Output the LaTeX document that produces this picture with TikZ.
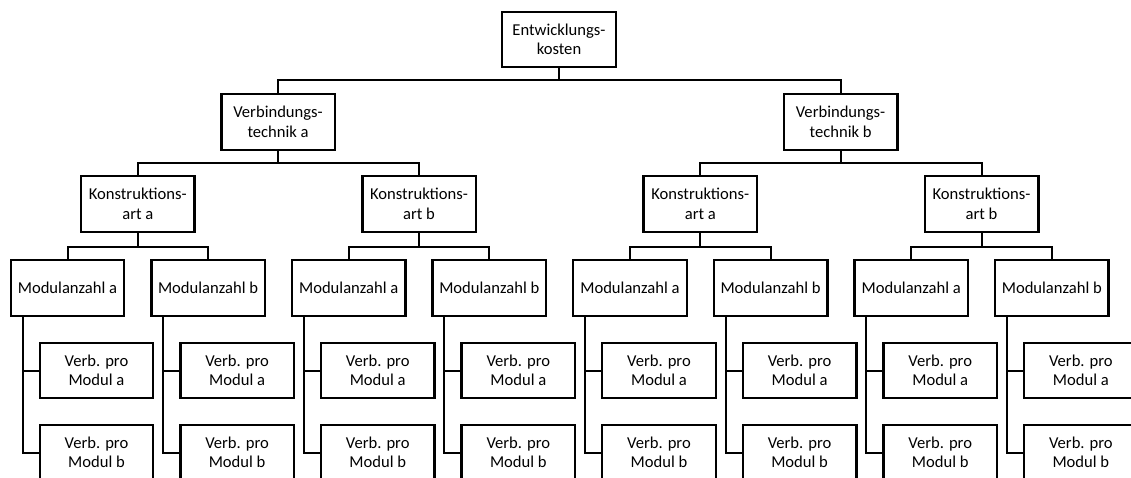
\documentclass[tikz,border=0pt]{standalone}
\usepackage{fontspec}
\setmainfont{Carlito}
\usetikzlibrary{calc}
\begin{document}
\begin{tikzpicture}[x=1pt,y=-1pt,
  box/.style={draw, line width=2.4pt, rectangle, fill=white,
    minimum width=113.5pt, minimum height=55.5pt, align=center,
    inner sep=2pt, font=\fontsize{16.6}{19.5}\selectfont},
  link/.style={line width=2pt}]
\clip (0,0) rectangle (1131,478);
\fill[white] (0,0) rectangle (1131,478);
\node[box] (top) at (559,39.5) {Entwicklungs-\\kosten};
\foreach \v/\vl in {0/a,1/b} {
  \node[box] (vt\vl) at ({278.1+562.5*\v},122) {Verbindungs-\\technik \vl};
  \draw[link] (top.south) -- ++(0,12) -| (vt\vl.north);
  \foreach \k/\kl in {0/a,1/b} {
    \node[box] (ka\vl\kl) at ({137.8+562.5*\v+281.25*\k},204) {Konstruktions-\\art \kl};
    \draw[link] (vt\vl.south) -- ++(0,12) -| (ka\vl\kl.north);
    \foreach \m/\ml in {0/a,1/b} {
      \node[box] (ma\vl\kl\ml) at ({67.5+562.5*\v+281.25*\k+140.6*\m},288) {Modulanzahl \ml};
      \draw[link] (ka\vl\kl.south) -- ++(0,14) -| (ma\vl\kl\ml.north);
      \node[box] (vpa\vl\kl\ml) at ($(ma\vl\kl\ml.center)+(29,82.5)$) {Verb. pro\\Modul a};
      \node[box] (vpb\vl\kl\ml) at ($(ma\vl\kl\ml.center)+(29,164.5)$) {Verb. pro\\Modul b};
      \coordinate (sp\vl\kl\ml) at ($(ma\vl\kl\ml.south)+(-45,0)$);
      \draw[link] (sp\vl\kl\ml) |- (vpa\vl\kl\ml.west);
      \draw[link] (sp\vl\kl\ml) |- (vpb\vl\kl\ml.west);
    }
  }
}
\end{tikzpicture}
\end{document}
